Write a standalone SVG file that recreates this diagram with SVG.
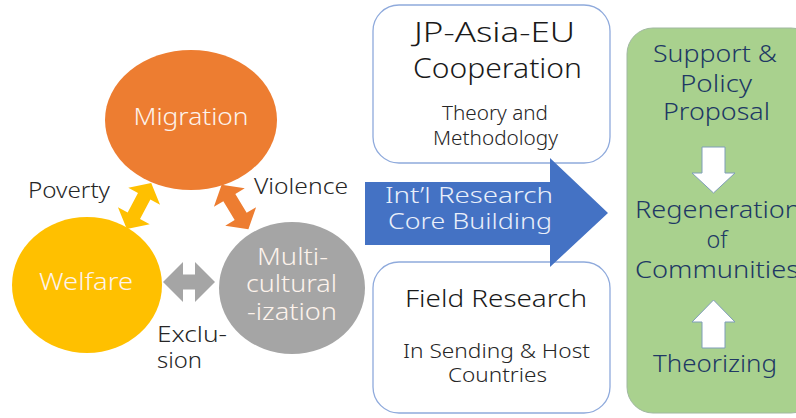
<svg xmlns="http://www.w3.org/2000/svg" width="796" height="418" viewBox="0 0 796 418">
<style>
text{font-family:"Noto Sans","Liberation Sans",sans-serif;text-anchor:middle;font-weight:300}
.wt{fill:#fdf3ec;font-size:24px}
.wm{fill:#fdf3ec;font-size:23px}
.lbl{fill:#262626;font-size:22px;text-anchor:start}
.big{fill:#1a1a1a;font-size:27px}
.med{fill:#262626;font-size:20px}
.box{fill:#ffffff;stroke:#8faadc;stroke-width:1.3}
.gt{fill:#203864;font-size:24px}
.ua{fill:#ffffff;stroke:#7f9db9;stroke-width:1}
.ct{fill:#e9effa;font-size:22px}
</style>
<rect width="796" height="418" fill="#ffffff"/>
<g id="migration">
<ellipse cx="191" cy="120" rx="86" ry="70" fill="#ed7d31"/>
<text class="wt" x="191" y="125" textLength="115" lengthAdjust="spacingAndGlyphs">Migration</text>
</g>
<g id="welfare">
<ellipse cx="87" cy="285" rx="75" ry="68" fill="#ffc000"/>
<text class="wt" x="86" y="290" textLength="94" lengthAdjust="spacingAndGlyphs">Welfare</text>
</g>
<g id="multiculturalization">
<ellipse cx="292" cy="288" rx="73" ry="66" fill="#a5a5a5"/>
<text class="wm" x="292.5" y="265" textLength="71" lengthAdjust="spacingAndGlyphs">Multi-</text>
<text class="wm" x="291.5" y="292" textLength="91" lengthAdjust="spacingAndGlyphs">cultural</text>
<text class="wm" x="292" y="320" textLength="90" lengthAdjust="spacingAndGlyphs">-ization</text>
</g>
<g id="labels">
<text class="lbl" x="28" y="198" textLength="82" lengthAdjust="spacingAndGlyphs">Poverty</text>
<text class="lbl" x="254" y="194" textLength="94" lengthAdjust="spacingAndGlyphs">Violence</text>
<text class="lbl" x="157" y="342" textLength="70" lengthAdjust="spacingAndGlyphs">Exclu-</text>
<text class="lbl" x="157" y="368" textLength="45" lengthAdjust="spacingAndGlyphs">sion</text>
</g>
<g id="cooperation">
<rect class="box" x="373" y="5" width="237" height="158" rx="26"/>
<text class="big" x="494.5" y="42" textLength="161" lengthAdjust="spacingAndGlyphs">JP-Asia-EU</text>
<text class="big" x="497.5" y="78" textLength="169" lengthAdjust="spacingAndGlyphs">Cooperation</text>
<text class="med" x="495" y="120" textLength="106" lengthAdjust="spacingAndGlyphs">Theory and</text>
<text class="med" x="495.5" y="145" textLength="125" lengthAdjust="spacingAndGlyphs">Methodology</text>
</g>
<g id="field-research">
<rect class="box" x="373" y="262" width="237" height="151" rx="26"/>
<text x="496" y="307" fill="#1a1a1a" font-size="23" textLength="182" lengthAdjust="spacingAndGlyphs">Field Research</text>
<text class="med" x="496.5" y="358" textLength="187" lengthAdjust="spacingAndGlyphs">In Sending &amp; Host</text>
<text class="med" x="497.5" y="382" textLength="99" lengthAdjust="spacingAndGlyphs">Countries</text>
</g>
<g id="outcomes">
<rect x="627" y="28" width="190" height="385" rx="26" fill="#a9d18e" stroke="#a0b8a0" stroke-width="1"/>
<text class="gt" x="715" y="62" textLength="124" lengthAdjust="spacingAndGlyphs">Support &amp;</text>
<text class="gt" x="716" y="92" textLength="72" lengthAdjust="spacingAndGlyphs">Policy</text>
<text class="gt" x="716.5" y="120" textLength="107" lengthAdjust="spacingAndGlyphs">Proposal</text>
<text class="gt" x="718" y="218" textLength="166" lengthAdjust="spacingAndGlyphs">Regeneration</text>
<text class="gt" x="717" y="248" textLength="21" lengthAdjust="spacingAndGlyphs">of</text>
<text class="gt" x="717" y="278" textLength="164" lengthAdjust="spacingAndGlyphs">Communities</text>
<text class="gt" x="715" y="372" textLength="124" lengthAdjust="spacingAndGlyphs">Theorizing</text>
</g>
<g id="connectors">
<path id="poverty-arrow" fill="#ffc000" transform="translate(139,206) rotate(-62)" d="M-26,0 L-11,-18 L-11,-7 L11,-7 L11,-18 L26,0 L11,18 L11,7 L-11,7 L-11,18 Z"/>
<path id="violence-arrow" fill="#ed7d31" transform="translate(235,207) rotate(59)" d="M-26,0 L-11,-18 L-11,-7 L11,-7 L11,-18 L26,0 L11,18 L11,7 L-11,7 L-11,18 Z"/>
<path id="exclusion-arrow" fill="#a5a5a5" d="M163,282 L183,262 L183,274.5 L195,274.5 L195,262 L215,282 L195,302 L195,289.5 L183,289.5 L183,302 Z"/>
<path id="core-arrow" fill="#4472c4" d="M365,182 L550,182 L550,158 L608,213 L550,267 L550,245 L365,245 Z"/>
<path id="down-arrow" class="ua" d="M702,147 L725,147 L725,173 L735,173 L713.5,193 L692,173 L702,173 Z"/>
<path id="up-arrow" class="ua" d="M713.5,300 L735,322 L725,322 L725,348 L702,348 L702,322 L692,322 Z"/>
</g>
<g id="core-building">
<text class="ct" x="469" y="203" textLength="168" lengthAdjust="spacingAndGlyphs">Int’l Research</text>
<text class="ct" x="470" y="229" textLength="164" lengthAdjust="spacingAndGlyphs">Core Building</text>
</g>
</svg>
